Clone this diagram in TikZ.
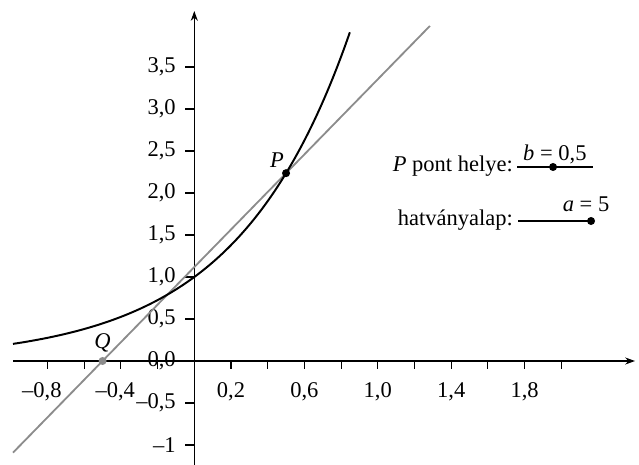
\documentclass[tikz,border=0pt]{standalone}
\usepackage{fontspec}
\setmainfont{Liberation Serif}
\usetikzlibrary{arrows.meta}
\definecolor{linegray}{gray}{0.55}
\tikzset{
  axis/.style={line width=.9pt,-{Stealth[length=7pt,width=5pt]}},
  tick/.style={line width=.8pt},
  dot/.style={circle,fill,inner sep=0pt,minimum size=5.7pt},
  lab/.style={inner sep=0pt}
}
\begin{document}
\begin{tikzpicture}[x=4.5875cm,y=2.1cm,font=\fontsize{16}{19}\selectfont]
\useasboundingbox (-1.0589,-1.2381) rectangle (2.4234,4.2976);

% axes:
\draw[axis] (-.988,0) -- (2.4017,0);
\draw[axis] (0,-1.238) -- (0,4.1667);

% ticks:
\foreach \x in {-.8,-.6,-.4,-.2,.2,.4,.6,.8,1,1.2,1.4,1.6,1.8,2}
  \draw[tick] (\x,0) -- (\x,-.095);
\foreach \y in {-1,-.5,0,.5,1,1.5,2,2.5,3,3.5}
  \draw[tick] (-.049,\y) -- (0,\y);

% labels:
\foreach \x/\t [count=\i] in {-.8/{\llap{–}0,8},-.4/{\llap{–}0,4},.2/{0,2},.6/{0,6},1/{1,0},1.4/{1,4},1.8/{1,8}}
  \node[lab,anchor=north] (xl\i) at (\x,-.25) {\t};
\foreach \y/\t [count=\i] in {-1/{–1},-.5/{–0,5},0/{0,0},.5/{0,5},1/{1,0},1.5/{1,5},2/{2,0},2.5/{2,5},3/{3,0},3.5/{3,5}}
  \node[lab,anchor=east] (yl\i) at (-.1,\y) {\t};

% line PQ:
\coordinate (lineS) at (-.988,-1.091);
\coordinate (lineE) at (1.284,3.989);
\draw[linegray,line width=1.3pt] (lineS) -- (lineE);

% 5^x:
\draw[line width=1.4pt,domain=-.988:.848,samples=120,smooth] plot (\x,{exp(ln(5)*\x)});

% P, Q:
\node[dot] (P) at (.5,2.2361) {};
\node[lab] (Plab) at (.45,2.393) {\textit{P}};
\node[dot,linegray] (Q) at (-.5,0) {};
\node[lab] (Qlab) at (-.5,.214) {\textit{Q}};

% sliders:
\node[lab,anchor=base east] (bname) at (1.737,2.25) {\textit{P} pont helye:};
\coordinate (s1a) at (1.7586,2.3095);
\coordinate (s1b) at (2.1711,2.3095);
\draw[line width=.9pt] (s1a) -- (s1b);
\node[dot] (bdot) at (1.955,2.3095) {};
\node[lab,anchor=base] (bval) at (1.965,2.385) {\textit{b} = 0,5};

\node[lab,anchor=base east] (aname) at (1.737,1.619) {hatványalap:};
\coordinate (s2a) at (1.764,1.6667);
\coordinate (s2b) at (2.162,1.6667);
\draw[line width=.9pt] (s2a) -- (s2b);
\node[dot] (adot) at (s2b) {};
\node[lab,anchor=base] (aval) at (2.135,1.777) {\textit{a} = 5};
\end{tikzpicture}
\end{document}
